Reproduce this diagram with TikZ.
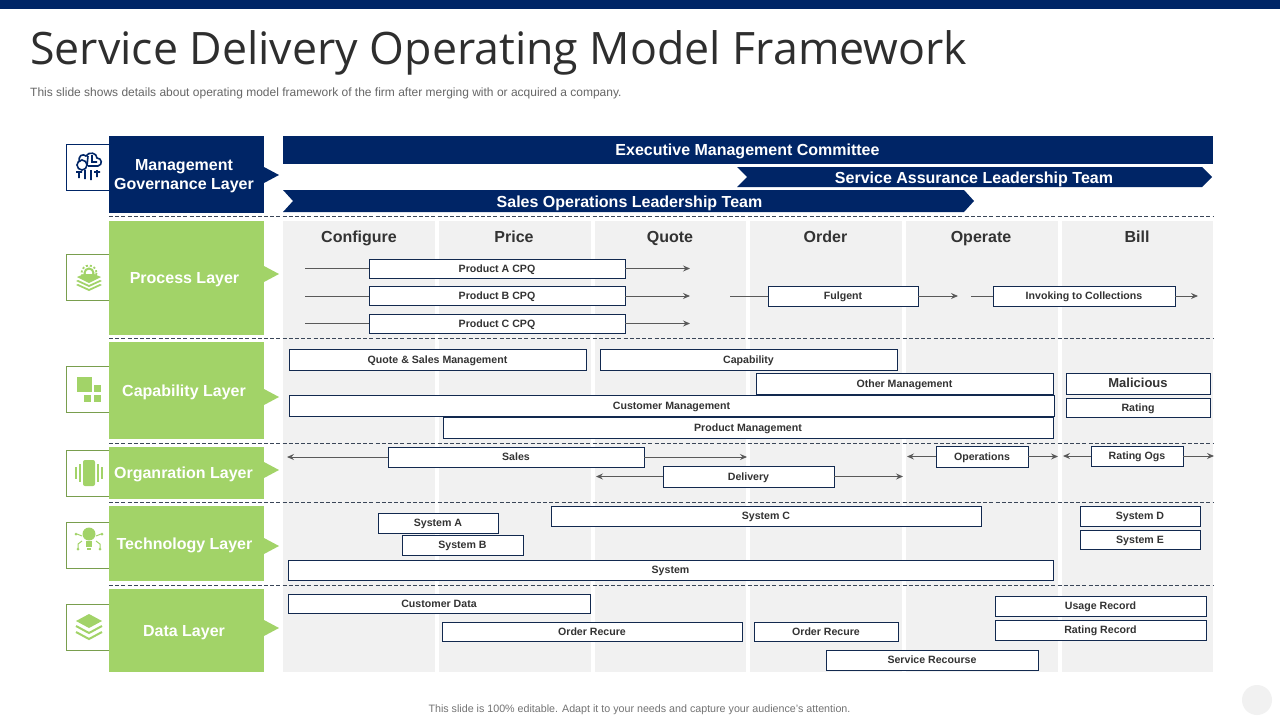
\documentclass[tikz,border=0pt]{standalone}
\usepackage{fontspec}
\setmainfont{Liberation Sans}
\newfontfamily\titlefont{Open Sans}
\usepackage{xcolor}
\definecolor{mnavy}{HTML}{002566}
\definecolor{mgreen}{HTML}{A2D368}
\definecolor{mgrey}{HTML}{F1F1F1}
\definecolor{mline}{HTML}{12294F}
\definecolor{mtext}{HTML}{333333}
\definecolor{mdash}{HTML}{3A4658}
\usepackage{tikz}
\usetikzlibrary{calc,arrows.meta}
\tikzset{
  cellbox/.style={draw=mline, fill=white, line width=0.9pt, inner sep=0pt, outer sep=0pt, text=mtext,
    font=\bfseries\fontsize{10.6}{12}\selectfont, text height=8pt, text depth=1pt},
  layerlabel/.style={inner sep=0pt, text=white, align=center,
    font=\bfseries\fontsize{16}{19}\selectfont},
  iconbox/.style={draw=mgreen!75!black, fill=white, line width=0.9pt, inner sep=0pt, minimum width=43pt, minimum height=46pt, outer sep=0pt},
  bannertext/.style={text=white, inner sep=0pt, font=\bfseries\fontsize{16}{19}\selectfont, text height=11.5pt, text depth=1pt},
  colhead/.style={text=mtext, inner sep=0pt, font=\bfseries\fontsize{16}{19}\selectfont, text height=11.5pt, text depth=1pt},
  flow/.style={draw=black!65, line width=1pt, >={Stealth[length=7pt, width=6pt, inset=2.5pt]}},
  sepline/.style={draw=mdash, dashed, dash pattern=on 4pt off 2.2pt, line width=0.8pt},
}
\begin{document}
\begin{tikzpicture}[x=1pt, y=-1pt]
\useasboundingbox (0,0) rectangle (1280,720);
\fill[white] (0,0) rectangle (1280,720);

\fill[mnavy] (0,0) rectangle (1280,9);
\node[anchor=west, inner sep=0pt, text=black!82, font=\titlefont\fontsize{44.7}{50}\selectfont] (title) at (30,53) {Service Delivery Operating Model Framework};
\node[anchor=west, inner sep=0pt, text=black!60, font=\fontsize{12}{14}\selectfont] (subtitle) at (30,93) {This slide shows details about operating model framework of the firm after merging with or acquired a company.};

% grey columns
\fill[mgrey] (283,221) rectangle (435,672);
\fill[mgrey] (439,221) rectangle (591,672);
\fill[mgrey] (595,221) rectangle (746,672);
\fill[mgrey] (750,221) rectangle (902,672);
\fill[mgrey] (906,221) rectangle (1058,672);
\fill[mgrey] (1062,221) rectangle (1213,672);

% separators
\draw[sepline] (109,216) -- (1213,216);
\draw[sepline] (109,338) -- (1213,338);
\draw[sepline] (109,443) -- (1213,443);
\draw[sepline] (109,502) -- (1213,502);
\draw[sepline] (109,585) -- (1213,585);

% icon frames
\node[iconbox, draw=mnavy] (iconMgmt) at (87.5,167) {};
\node[iconbox] (iconProc) at (87.5,277.5) {};
\node[iconbox] (iconCap) at (87.5,389) {};
\node[iconbox] (iconOrg) at (87.5,473) {};
\node[iconbox] (iconTech) at (87.5,545) {};
\node[iconbox] (iconData) at (87.5,627) {};

% layers
\fill[mnavy] (264,167) -- (279,175) -- (264,183) -- cycle;
\fill[mgreen] (264,266) -- (279,274) -- (264,282) -- cycle;
\fill[mgreen] (264,389) -- (279,397) -- (264,405) -- cycle;
\fill[mgreen] (264,462) -- (279,470) -- (264,478) -- cycle;
\fill[mgreen] (264,538) -- (279,546) -- (264,554) -- cycle;
\fill[mgreen] (264,620) -- (279,628) -- (264,636) -- cycle;
\fill[mnavy] (109,136) rectangle (264,213);
\fill[mgreen] (109,221) rectangle (264,335);
\fill[mgreen] (109,342) rectangle (264,439);
\fill[mgreen] (109,447) rectangle (264,499);
\fill[mgreen] (109,506) rectangle (264,581);
\fill[mgreen] (109,589) rectangle (264,672);
\node[layerlabel] (labelMgmt) at (184,176) {Management\\Governance Layer};
\node[layerlabel] (labelProc) at (184.5,279.5) {Process Layer};
\node[layerlabel] (labelCap) at (184,392.5) {Capability Layer};
\node[layerlabel] (labelOrg) at (183.5,474.5) {Organration Layer};
\node[layerlabel] (labelTech) at (184.5,545.5) {Technology Layer};
\node[layerlabel] (labelData) at (184,632.5) {Data Layer};

% banners
\fill[mnavy] (283,136) rectangle (1213,164);
\fill[mnavy] (737,167) -- (1202,167) -- (1212,177) -- (1202,187) -- (737,187) -- (747,177) -- cycle;
\fill[mnavy] (283,190) -- (964,190) -- (974,201) -- (964,212) -- (283,212) -- (293,201) -- cycle;
\node[bannertext] (exec) at (747.5,150) {Executive Management Committee};
\node[bannertext] (assure) at (974,178) {Service Assurance Leadership Team};
\node[bannertext] (salesops) at (629.5,202) {Sales Operations Leadership Team};

% column heads
\node[colhead] (configure) at (359,237) {Configure};
\node[colhead] (price) at (514,237) {Price};
\node[colhead] (quotehead) at (670,237) {Quote};
\node[colhead] (orderhead) at (825.5,237) {Order};
\node[colhead] (operate) at (981,237) {Operate};
\node[colhead] (bill) at (1137,237) {Bill};

% process row
\node[cellbox, minimum width=256pt, minimum height=19pt] (prodA) at (497,268.5) {Product A CPQ};
\node[cellbox, minimum width=256pt, minimum height=19pt] (prodB) at (497,296) {Product B CPQ};
\node[cellbox, minimum width=256pt, minimum height=19pt] (prodC) at (497,323.5) {Product C CPQ};
\node[cellbox, minimum width=150pt, minimum height=20pt] (fulgent) at (843,296) {Fulgent};
\node[cellbox, minimum width=182pt, minimum height=20pt] (invoking) at (1084,296) {Invoking to Collections};

\coordinate (prodAin) at (305,268.5);
\coordinate (prodAout) at (690,268.5);
\coordinate (prodBin) at (305,296);
\coordinate (prodBout) at (690,296);
\coordinate (prodCin) at (305,323.5);
\coordinate (prodCout) at (690,323.5);
\coordinate (fulgentin) at (730,296);
\coordinate (fulgentout) at (958,296);
\coordinate (invokingin) at (971,296);
\coordinate (invokingout) at (1198,296);
\draw[flow] (prodAin) -- (prodA);
\draw[flow, ->] (prodA) -- (prodAout);
\draw[flow] (prodBin) -- (prodB);
\draw[flow, ->] (prodB) -- (prodBout);
\draw[flow] (prodCin) -- (prodC);
\draw[flow, ->] (prodC) -- (prodCout);
\draw[flow] (fulgentin) -- (fulgent);
\draw[flow, ->] (fulgent) -- (fulgentout);
\draw[flow] (invokingin) -- (invoking);
\draw[flow, ->] (invoking) -- (invokingout);

% capability row
\node[cellbox, minimum width=297pt, minimum height=21pt] (quoteSales) at (437.5,359.5) {Quote \& Sales Management};
\node[cellbox, minimum width=297pt, minimum height=21pt] (capab) at (748.5,359.5) {Capability};
\node[cellbox, minimum width=297pt, minimum height=21pt] (otherMgmt) at (904.5,383.5) {Other Management};
\node[cellbox, minimum width=144pt, minimum height=21pt, font=\bfseries\fontsize{13}{15}\selectfont, text height=9.5pt, text depth=2pt] (malicious) at (1138,383.5) {Malicious};
\node[cellbox, minimum width=765pt, minimum height=21pt] (custMgmt) at (671.5,405.5) {Customer Management};
\node[cellbox, minimum width=144pt, minimum height=19pt] (rating) at (1138,407.5) {Rating};
\node[cellbox, minimum width=610pt, minimum height=21pt] (prodMgmt) at (748,427.5) {Product Management};

% organisation row
\node[cellbox, minimum width=256pt, minimum height=20pt] (sales) at (516,457) {Sales};
\node[cellbox, minimum width=171pt, minimum height=21pt] (delivery) at (748.5,476.5) {Delivery};
\node[cellbox, minimum width=92pt, minimum height=21pt] (operations) at (982,456.5) {Operations};
\node[cellbox, minimum width=92pt, minimum height=20pt] (ratingOgs) at (1137,456) {Rating Ogs};

\coordinate (salesin) at (287,457);
\coordinate (salesout) at (747,457);
\coordinate (deliveryin) at (596,476.5);
\coordinate (deliveryout) at (903,476.5);
\coordinate (operationsin) at (907,456.5);
\coordinate (operationsout) at (1058,456.5);
\coordinate (ratingOgsin) at (1063,456);
\coordinate (ratingOgsout) at (1214,456);
\draw[flow, ->] (sales) -- (salesin);
\draw[flow, ->] (sales) -- (salesout);
\draw[flow, ->] (delivery) -- (deliveryin);
\draw[flow, ->] (delivery) -- (deliveryout);
\draw[flow, ->] (operations) -- (operationsin);
\draw[flow, ->] (operations) -- (operationsout);
\draw[flow, ->] (ratingOgs) -- (ratingOgsin);
\draw[flow, ->] (ratingOgs) -- (ratingOgsout);

% technology row
\node[cellbox, minimum width=120pt, minimum height=20pt] (sysA) at (438,523) {System A};
\node[cellbox, minimum width=121pt, minimum height=20pt] (sysB) at (462.5,545) {System B};
\node[cellbox, minimum width=430pt, minimum height=20pt] (sysC) at (766,516) {System C};
\node[cellbox, minimum width=120pt, minimum height=20pt] (sysD) at (1140,516) {System D};
\node[cellbox, minimum width=120pt, minimum height=19pt] (sysE) at (1140,539.5) {System E};
\node[cellbox, minimum width=765pt, minimum height=20pt] (sysAll) at (670.5,570) {System};

% data row
\node[cellbox, minimum width=302pt, minimum height=19pt] (custData) at (439,603.5) {Customer Data};
\node[cellbox, minimum width=300pt, minimum height=19pt] (orderA) at (592,631.5) {Order Recure};
\node[cellbox, minimum width=144pt, minimum height=19pt] (orderB) at (826,631.5) {Order Recure};
\node[cellbox, minimum width=212pt, minimum height=20pt] (serviceRec) at (932,660) {Service Recourse};
\node[cellbox, minimum width=211pt, minimum height=20pt] (usageRec) at (1100.5,606) {Usage Record};
\node[cellbox, minimum width=211pt, minimum height=20pt] (ratingRec) at (1100.5,630) {Rating Record};

% icons
\draw[mnavy, line width=1.6pt] (80,162) .. controls (77,156) and (83,153) .. (86,156) .. controls (89,151) and (97,153) .. (97,158) .. controls (102,158) and (103,165) .. (98,166) -- (88,166);
\draw[mnavy, line width=1.6pt] (82,165) circle (5);
\draw[mnavy, line width=1.6pt] (87,166) -- (88,156) (92,155) -- (92,162) -- (97,162) (79,172) -- (79,178) (76,172) -- (82,172) (85,170) -- (85,179) (91,170) -- (91,180) (97,170) -- (97,177) (94,172) -- (100,172);

\fill[mgreen] (89,291) -- (76,285) -- (78,284) -- (89,289) -- (100,284) -- (102,285) -- cycle;
\fill[mgreen] (89,287) -- (76,281) -- (78,280) -- (89,285) -- (100,280) -- (102,281) -- cycle;
\fill[mgreen] (89,283) -- (77,277) -- (84,274) -- (94,274) -- (101,277) -- cycle;
\draw[mgreen, line width=2pt] (89,273) circle (4.5);
\draw[mgreen, line width=1.8pt, dashed, dash pattern=on 2pt off 2pt] (89,273) circle (7.5);

\fill[mgreen] (77,377) rectangle (92,392);
\fill[mgreen] (94,385) rectangle (101,392);
\fill[mgreen] (84,395) rectangle (91,402);
\fill[mgreen] (94,395) rectangle (101,402);

\fill[mgreen, rounded corners=2pt] (83,460) rectangle (95,486);
\fill[mgreen] (79,464) rectangle (81,482);
\fill[mgreen] (75,467) rectangle (77,479);
\fill[mgreen] (97,464) rectangle (99,482);
\fill[mgreen] (101,467) rectangle (103,479);

\fill[mgreen] (89,534) circle (6.5);
\fill[mgreen] (86,541) rectangle (92,547);
\fill[mgreen] (87,548) rectangle (91,550);
\draw[mgreen, line width=1pt] (82,536) -- (77,534) (82,541) -- (78,544) -- (78,548) (96,536) -- (101,534) (96,541) -- (100,544) -- (100,548);
\fill[mgreen] (76,534) circle (1.5) (102,534) circle (1.5) (78,549) circle (1.5) (100,549) circle (1.5);

\fill[mgreen] (89,614) -- (102,621) -- (89,628) -- (76,621) -- cycle;
\draw[mgreen, line width=2pt] (76,626) -- (89,633) -- (102,626);
\draw[mgreen, line width=2pt] (76,632) -- (89,639) -- (102,632);

% footer
\node[inner sep=0pt, text=black!55, font=\fontsize{10.7}{12}\selectfont] (footer) at (639.5,709.5) {This slide is 100\% editable. Adapt it to your needs and capture your audience's attention.};
\fill[mgrey] (1257,700) circle (15);

\end{tikzpicture}
\end{document}
